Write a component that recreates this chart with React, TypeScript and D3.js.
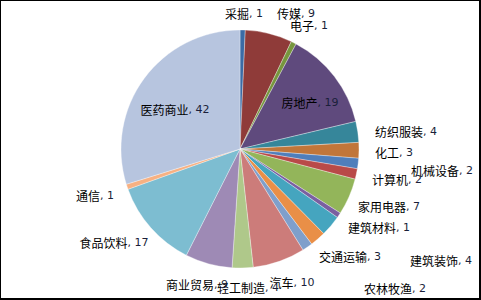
import { useEffect, useRef } from 'react';
import * as d3 from 'd3';

const categories = [
  '采掘', '传媒', '电子', '房地产', '纺织服装', '化工', '机械设备', '计算机', '家用电器',
  '建筑材料', '建筑装饰', '交通运输', '农林牧渔', '汽车', '轻工制造', '商业贸易', '食品饮料',
  '通信', '医药商业',
];
const counts = [1, 9, 1, 19, 4, 3, 2, 2, 7, 1, 4, 3, 2, 10, 4, 9, 17, 1, 42];

const colors = [
  '#3B6BA5', '#8F3B39', '#77963E', '#5F4A7D', '#36869A', '#C1763A', '#4F7EBB', '#B94A48',
  '#93B55A', '#7A5FA0', '#45A5BF', '#E98F47', '#7F9FCB', '#CC7C7A', '#AFC88A', '#9E8AB5',
  '#7DBDD1', '#F7B183', '#B7C5DF',
];

// label centre, relative to pie centre (Excel "best fit" placement)
const labelOffsets: [number, number][] = [
  [4, -136], [56, -136], [69, -124], [70, -47], [166, -18], [154, 3], [202, 21], [157, 30],
  [149, 57], [139, 78], [201, 111], [110, 107], [155, 139], [52, 133], [8, 138], [-43, 135],
  [-126, 93], [-145, 46], [-65, -40],
];

interface Slice {
  name: string;
  value: number;
  color: string;
  offset: [number, number];
}

const W = 481;
const H = 300;

export default function App() {
  const svgRef = useRef<SVGSVGElement>(null);

  useEffect(() => {
    document.body.style.margin = '0';
    if (!svgRef.current) return;
    const svg = d3.select(svgRef.current);
    svg.selectAll('*').remove();

    const data: Slice[] = categories.map((name, i) => ({
      name,
      value: counts[i],
      color: colors[i],
      offset: labelOffsets[i],
    }));

    const cx = 240;
    const cy = 149;
    const radius = 119;

    svg.append('rect').attr('width', W).attr('height', H).attr('fill', '#fff');

    const pie = d3.pie<Slice>().value((d) => d.value).sort(null);
    const arc = d3.arc<d3.PieArcDatum<Slice>>().innerRadius(0).outerRadius(radius);

    const g = svg.append('g').attr('transform', `translate(${cx},${cy})`);

    g.selectAll('path')
      .data(pie(data))
      .enter()
      .append('path')
      .attr('d', arc)
      .attr('fill', (d) => d.data.color)
      .attr('stroke', 'rgba(255,255,255,0.55)')
      .attr('stroke-width', 0.6);

    const labels = g
      .selectAll('text')
      .data(data)
      .enter()
      .append('text')
      .attr('x', (d) => d.offset[0])
      .attr('y', (d) => d.offset[1])
      .attr('text-anchor', 'middle')
      .attr('dominant-baseline', 'central')
      .attr('font-family', '"Noto Sans CJK SC", sans-serif')
      .attr('font-size', 12)
      .attr('fill', '#000');

    labels.append('tspan').text((d) => d.name);
    labels
      .append('tspan')
      .attr('fill', '#1a1f3a')
      .attr('font-family', 'Tahoma, "DejaVu Sans", sans-serif')
      .attr('font-size', 11)
      .text((d) => `, ${d.value}`);

    // chart frame
    svg
      .append('rect')
      .attr('x', 0.5)
      .attr('y', 0.5)
      .attr('width', 479)
      .attr('height', 298)
      .attr('fill', 'none')
      .attr('stroke', '#000');
    svg.append('line').attr('x1', 480.5).attr('x2', 480.5).attr('y1', 0).attr('y2', 300).attr('stroke', '#000');
    svg.append('line').attr('x1', 0).attr('x2', 481).attr('y1', 299.5).attr('y2', 299.5).attr('stroke', '#000');
  }, []);

  return <svg ref={svgRef} width={W} height={H} style={{ display: 'block' }} />;
}
